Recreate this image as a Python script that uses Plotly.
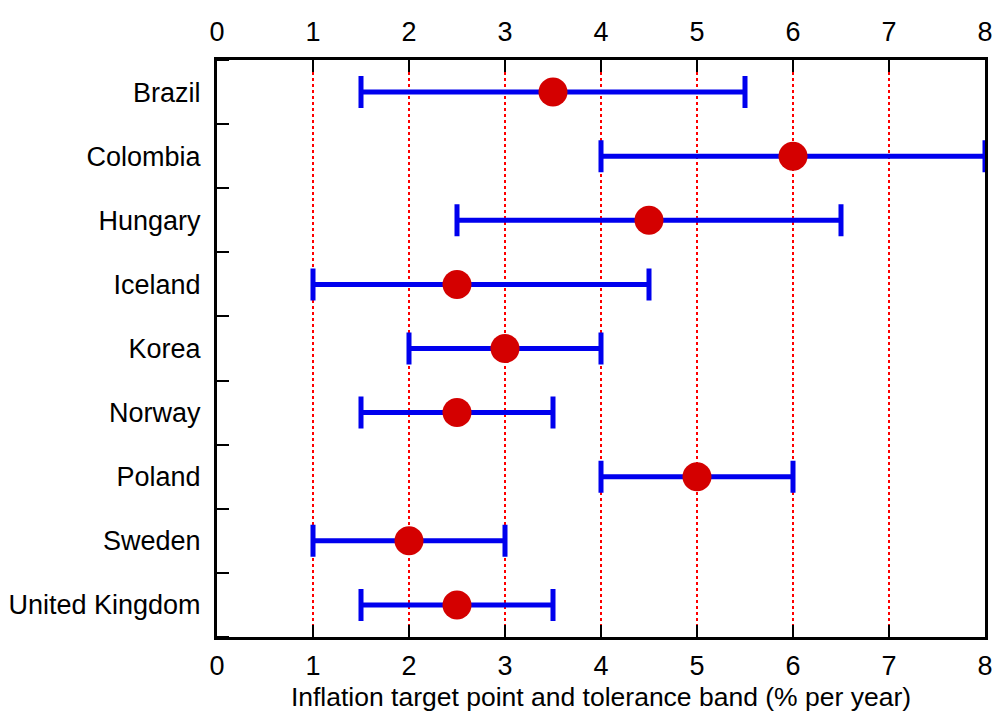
import plotly.graph_objects as go

countries = ["Brazil", "Colombia", "Hungary", "Iceland", "Korea", "Norway", "Poland", "Sweden", "United Kingdom"]
target = [3.5, 6, 4.5, 2.5, 3, 2.5, 5, 2, 2.5]
low = [1.5, 4, 2.5, 1, 2, 1.5, 4, 1, 1.5]
high = [5.5, 8, 6.5, 4.5, 4, 3.5, 6, 3, 3.5]
x_ticks = [0, 1, 2, 3, 4, 5, 6, 7, 8]

ypos = list(range(len(countries)))
plus = [h - t for h, t in zip(high, target)]
minus = [t - l for t, l in zip(target, low)]

FONT = "Liberation Sans, Arial, sans-serif"

fig = go.Figure()
fig.add_trace(go.Scatter(
    x=target, y=ypos, mode="markers",
    marker=dict(color="#d40000", size=29, line=dict(width=0)),
    error_x=dict(type="data", symmetric=False, array=plus, arrayminus=minus,
                 color="#0000ee", thickness=5, width=16),
    showlegend=False, hoverinfo="skip",
))
fig.add_trace(go.Scatter(x=[0, 8], y=[0, 0], xaxis="x2", mode="markers",
                         marker=dict(opacity=0), showlegend=False, hoverinfo="skip"))

axis_common = dict(
    range=[0, 8], tickvals=x_ticks, ticks="inside", ticklen=12, tickwidth=2,
    tickcolor="black", showline=True, linecolor="black", linewidth=3,
    tickfont=dict(family=FONT, size=27, color="black"), zeroline=False,
    automargin=False,
)

fig.update_layout(
    width=998, height=715,
    margin=dict(l=217, r=13, t=60, b=78),
    paper_bgcolor="white", plot_bgcolor="white",
    xaxis=dict(**axis_common, showgrid=True, gridcolor="#ff0000", griddash="dot", gridwidth=2,
               mirror=False, ticklabelstandoff=3,
               title=dict(text="Inflation target point and tolerance band (% per year)",
                          font=dict(family=FONT, size=26.5, color="black"), standoff=8)),
    xaxis2=dict(**axis_common, overlaying="x", side="top", showgrid=False,
                ticklabelstandoff=5),
    yaxis=dict(range=[8.5, -0.5], tickvals=ypos, ticktext=countries, ticks="",
               showline=True, linecolor="black", linewidth=3, mirror=True,
               showgrid=False, zeroline=False, ticklabelstandoff=8, automargin=False,
               tickfont=dict(family=FONT, size=27, color="black"),
               minor=dict(tick0=0.5, dtick=1, ticks="inside", ticklen=12, tickwidth=2,
                          tickcolor="black", showgrid=False)),
)

fig.write_html("out.html", config={"displayModeBar": False},
               post_script="document.body.style.margin='0';")
